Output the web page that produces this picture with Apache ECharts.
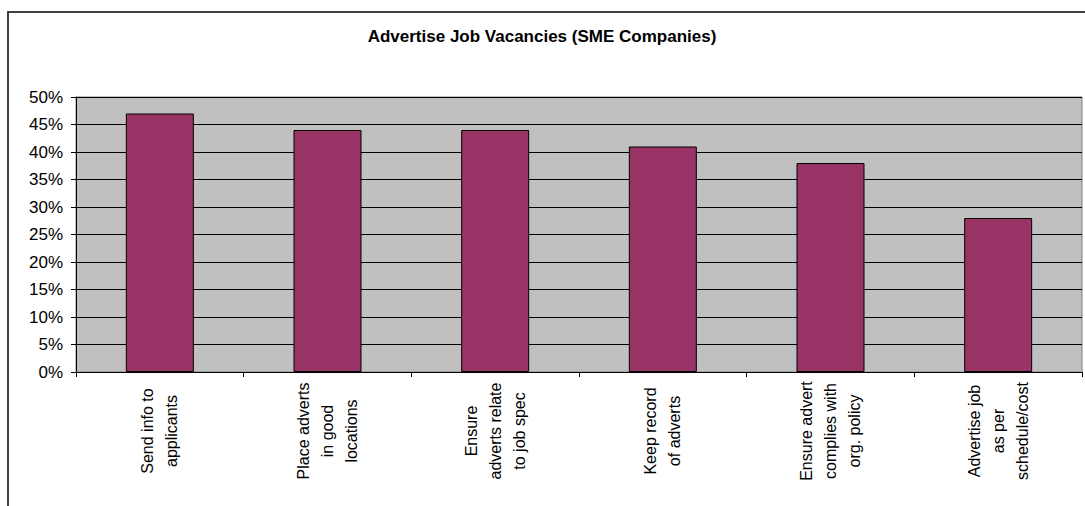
<!DOCTYPE html>
<html>
<head>
<meta charset="utf-8">
<title>Advertise Job Vacancies (SME Companies)</title>
<script src="https://cdn.jsdelivr.net/npm/echarts@6/dist/echarts.min.js"></script>
<style>
  html, body { margin: 0; padding: 0; background: #ffffff; }
  #chart { width: 1085px; height: 506px; }
</style>
</head>
<body>
<div id="chart"></div>
<script>
// Survey results: share of SME companies carrying out each job-advertising activity
const chartTitle = 'Advertise Job Vacancies (SME Companies)';
const categories = [
  'Send info to\napplicants',
  'Place adverts\nin good\nlocations',
  'Ensure\nadverts relate\nto job spec',
  'Keep record\nof adverts',
  'Ensure advert\ncomplies with\norg. policy',
  'Advertise job\nas per\nschedule/cost'
];
const percentages = [47, 44, 44, 41, 38, 28];
const yAxisMax = 50;
const yAxisStep = 5;

const FONT = '"Liberation Sans", Arial, Helvetica, sans-serif';

const chart = echarts.init(document.getElementById('chart'), null, { renderer: 'svg' });

chart.setOption({
  backgroundColor: '#ffffff',
  animation: false,
  title: {
    text: chartTitle,
    left: 537,
    top: 23,
    textAlign: 'center',
    textStyle: { fontFamily: FONT, fontSize: 17, fontWeight: 'bold', color: '#000000' }
  },
  // outer chart frame (runs past the right and bottom edges of the page)
  graphic: [{
    type: 'rect',
    shape: { x: 8, y: 12, width: 1200, height: 600 },
    style: { fill: 'none', stroke: '#404040', lineWidth: 2 },
    silent: true,
    z: 100
  }],
  grid: {
    left: 76,
    right: 3,
    top: 97,
    bottom: 134,
    show: true,
    backgroundColor: '#C0C0C0',
    borderColor: '#808080',
    borderWidth: 1
  },
  xAxis: {
    type: 'category',
    data: categories,
    axisLine: { lineStyle: { color: '#000000', width: 1 } },
    axisTick: { show: true, alignWithLabel: false, length: 5, lineStyle: { color: '#000000' } },
    axisLabel: {
      interval: 0,
      rotate: 90,
      // centred lines; the block is centred a fixed distance below the axis
      align: 'center',
      verticalAlign: 'middle',
      margin: 59,
      fontFamily: FONT,
      fontSize: 16,
      lineHeight: 24,
      color: '#000000'
    },
    splitLine: { show: false }
  },
  yAxis: {
    type: 'value',
    min: 0,
    max: yAxisMax,
    interval: yAxisStep,
    axisLine: { show: true, lineStyle: { color: '#000000', width: 1 } },
    axisTick: { show: true, length: 5, lineStyle: { color: '#000000' } },
    axisLabel: {
      margin: 13,
      formatter: '{value}%',
      fontFamily: FONT,
      fontSize: 17,
      color: '#000000'
    },
    splitLine: { show: true, lineStyle: { color: '#000000', width: 1 } }
  },
  series: [{
    type: 'bar',
    data: percentages,
    barWidth: 68,
    itemStyle: { color: '#993366', borderColor: '#000000', borderWidth: 1 }
  }]
});
</script>
</body>
</html>
